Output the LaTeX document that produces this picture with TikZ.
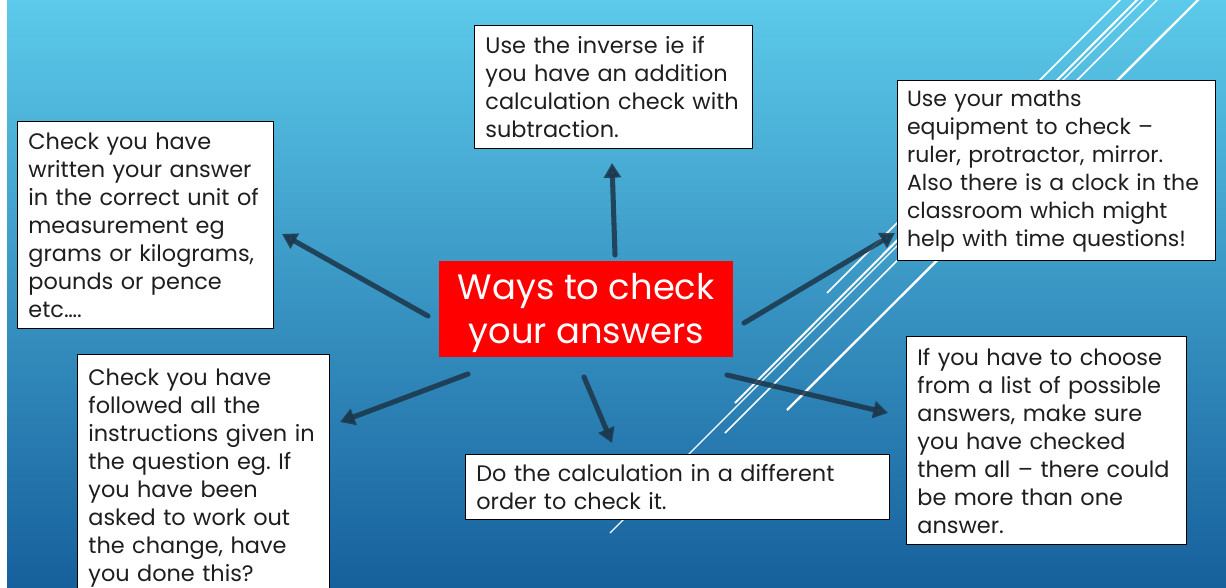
\documentclass[tikz,border=0pt]{standalone}
\usepackage{fontspec}
\setmainfont{Poppins}
\frenchspacing
\usetikzlibrary{arrows.meta}
\definecolor{bgtop}{RGB}{92,202,234}
\definecolor{bgbot}{RGB}{22,96,156}
\definecolor{arr}{RGB}{28,56,76}
\definecolor{txt}{RGB}{30,30,30}
\tikzset{
  box/.style={draw=black, line width=1.1pt, fill=white, anchor=north west,
    inner xsep=8pt, inner ysep=3pt, align=left, text=txt,
    font=\fontsize{16.8}{21}\selectfont},
  redbox/.style={fill=red, anchor=north west, inner sep=0pt},
  redtext/.style={align=center, text=white, inner sep=0pt,
    font=\fontsize{26.5}{33}\selectfont},
  conn/.style={draw=arr, opacity=0.88, line width=3.8pt, line cap=round,
    -{Triangle[length=11pt,width=12.5pt]}},
  wline/.style={draw=white}
}
\begin{document}
\begin{tikzpicture}[x=0.75pt,y=-0.75pt]
\useasboundingbox (0,0) rectangle (1226,587);
\clip (0,0) rectangle (1226,587);
\shade[top color=bgtop,bottom color=bgbot] (7,0) rectangle (1226,587);
\fill[white] (0,0) rectangle (7,587);
% white diagonal lines
\draw[wline, line width=1.1pt] (1125,-5) -- (827,293);
\draw[wline, line width=1.5pt] (1142,-5) -- (735,403);
\draw[wline, line width=0.9pt] (1148,-5) -- (610,533);
\draw[wline, line width=1.2pt] (1162,-5) -- (725,433);
\draw[wline, line width=1.8pt] (1203,-5) -- (787,410);
% boxes
\node[box, minimum width=208.5pt, minimum height=92.25pt, text width=192.5pt] (inv) at (474,25)
  {Use the inverse ie if\\you have an addition\\calculation check with\\subtraction.};
\node[box, minimum width=192pt, minimum height=155.25pt, text width=176pt] (unit) at (17,121)
  {Check you have\\written your answer\\in the correct unit of\\measurement eg\\grams or kilograms,\\pounds or pence\\etc….};
\node[box, minimum width=238.5pt, minimum height=135pt, text width=224.5pt, inner xsep=7pt,
  font=\fontsize{16.5}{21}\selectfont] (equip) at (897,80)
  {Use your maths\\equipment to check –\\ruler, protractor, mirror.\\Also there is a clock in the\\classroom which might\\help with time questions!};
\node[box, minimum width=210pt, minimum height=156pt, text width=194pt] (choose) at (906,336)
  {If you have to choose\\from a list of possible\\answers, make sure\\you have checked\\them all – there could\\be more than one\\answer.};
\node[box, minimum width=318pt, minimum height=48.75pt, text width=302pt] (order) at (465,454)
  {Do the calculation in a different\\order to check it.};
\node[box, minimum width=189pt, minimum height=184.5pt, text width=173pt] (instr) at (77,354)
  {Check you have\\followed all the\\instructions given in\\the question eg. If\\you have been\\asked to work out\\the change, have\\you done this?};
\node[redbox, minimum width=220.5pt, minimum height=72pt,
  label={[redtext, yshift=-3pt]center:{Ways to check\\your answers}}] (main) at (439,261) {};
% arrows
\coordinate (upA) at (615,255); \coordinate (upB) at (612,163);
\coordinate (ulA) at (428,316); \coordinate (ulB) at (282,234);
\coordinate (urA) at (744,323); \coordinate (urB) at (895,233);
\coordinate (lrA) at (727,375); \coordinate (lrB) at (888,413);
\coordinate (dnA) at (584,377); \coordinate (dnB) at (612,443);
\coordinate (llA) at (468,374); \coordinate (llB) at (340,422);
\draw[conn] (upA) -- (upB);
\draw[conn] (ulA) -- (ulB);
\draw[conn] (urA) -- (urB);
\draw[conn] (lrA) -- (lrB);
\draw[conn] (dnA) -- (dnB);
\draw[conn] (llA) -- (llB);
\end{tikzpicture}
\end{document}
